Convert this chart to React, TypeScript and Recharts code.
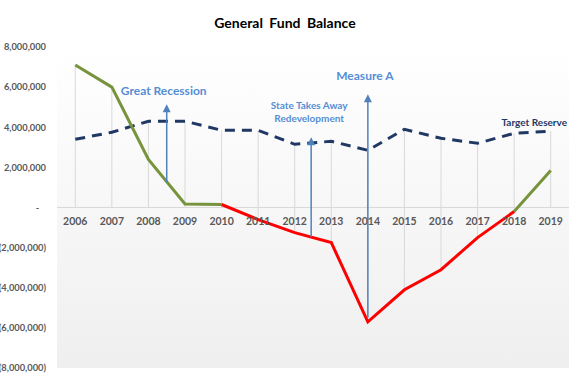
import React from 'react';
import {
  ComposedChart,
  Line,
  XAxis,
  YAxis,
  ReferenceLine,
  ReferenceArea,
  ReferenceDot,
} from 'recharts';

const years = [2006, 2007, 2008, 2009, 2010, 2011, 2012, 2013, 2014, 2015, 2016, 2017, 2018, 2019];
// balance above water (green) and the deficit stretch (red); they share 2010 and 2018
const fundGreen = [7100000, 6000000, 2400000, 180000, 150000, null, null, null, null, null, null, null, -200000, 1850000];
const fundRed = [null, null, null, null, 150000, -600000, -1250000, -1750000, -5700000, -4100000, -3100000, -1500000, -200000, null];
const targetReserve = [3400000, 3750000, 4300000, 4300000, 3850000, 3850000, 3150000, 3300000, 2850000, 3900000, 3450000, 3200000, 3700000, 3800000];
const yTicks = [-8000000, -6000000, -4000000, -2000000, 0, 2000000, 4000000, 6000000, 8000000];

// arrow annotations: x in years, from/to in dollars
const notes = [
  { lines: ['Great Recession'], x: 2008.5, from: 1250000, to: 5150000, size: 12, dx: -3, gap: 9 },
  { lines: ['State Takes Away', 'Redevelopment'], x: 2012.45, from: -1470000, to: 3500000, size: 10, dx: -2, gap: 15 },
  { lines: ['Measure A'], x: 2014, from: -5500000, to: 5650000, size: 12, dx: -3, gap: 14 },
];

const data = years.map((year, i) => {
  const vals = [fundGreen[i], fundRed[i], targetReserve[i]].filter((v) => v !== null) as number[];
  return {
    year,
    green: fundGreen[i],
    red: fundRed[i],
    target: targetReserve[i],
    lo: Math.min(0, ...vals),
    hi: Math.max(0, ...vals),
  };
});

const FONT = 'Lato, "Liberation Sans", sans-serif';
const ARROW = '#4F81BD';
const NOTE = '#558ED5';

const fmt = (v: number) => {
  if (v === 0) return '-\u00A0\u00A0\u00A0';
  const s = Math.abs(v).toLocaleString('en-US');
  return v < 0 ? `(${s})` : s;
};

function makeArrow(note: typeof notes[number]) {
  return (p: any) => {
    const { x1, y1, y2 } = p;
    const bottom = Math.max(y1, y2);
    const top = Math.min(y1, y2);
    const x = x1;
    const n = note.lines.length;
    const lh = note.size + 3;
    return (
      <g>
        <line x1={x} y1={bottom} x2={x} y2={top + 7} stroke={ARROW} strokeWidth={1.5} />
        <path d={`M${x - 4},${top + 8} L${x},${top} L${x + 4},${top + 8} Z`} fill={ARROW} />
        {note.lines.map((t, i) => (
          <text
            key={t}
            x={x + note.dx}
            y={top - note.gap - (n - 1 - i) * lh}
            textAnchor="middle"
            fontSize={note.size}
            fontWeight={700}
            fill={NOTE}
            fontFamily={FONT}
          >
            {t}
          </text>
        ))}
      </g>
    );
  };
}

export default function App() {
  return (
    <div style={{ position: 'absolute', left: 0, top: 0, width: 570, height: 384, background: '#fff', fontFamily: FONT }}>
      <div
        style={{
          position: 'absolute',
          top: 14,
          left: 0,
          width: 570,
          textAlign: 'center',
          fontSize: 14,
          fontWeight: 700,
          color: '#000',
          wordSpacing: 3,
        }}
      >
        General Fund Balance
      </div>
      <ComposedChart width={570} height={384} data={data} margin={{ top: 47, right: 1, bottom: 16, left: 0 }}>
        <defs>
          <linearGradient id="plotBg" x1="0" y1="0" x2="0" y2="1">
            <stop offset="0%" stopColor="#ffffff" />
            <stop offset="100%" stopColor="#efefef" />
          </linearGradient>
        </defs>
        <XAxis dataKey="year" type="number" domain={[2005.5, 2019.5]} hide />
        <YAxis
          type="number"
          domain={[-8000000, 8000000]}
          ticks={yTicks}
          tickFormatter={fmt}
          width={57}
          axisLine={false}
          tickLine={false}
          tickSize={9}
          tick={{ fontSize: 9.3, fill: '#595959', fontWeight: 700, fontFamily: FONT }}
        />
        <ReferenceArea x1={2005.5} x2={2019.5} y1={-8000000} y2={8000000} fill="url(#plotBg)" fillOpacity={1} stroke="none" />
        {data.map((d) => (
          <ReferenceLine
            key={`drop${d.year}`}
            segment={[{ x: d.year, y: d.lo }, { x: d.year, y: d.hi }]}
            stroke="#d9d9d9"
            strokeWidth={1}
          />
        ))}
        <ReferenceLine y={0} stroke="#d9d9d9" strokeWidth={1} />
        {years.map((y) => (
          <ReferenceDot
            key={`lbl${y}`}
            x={y}
            y={0}
            r={0}
            stroke="none"
            fill="none"
            label={{ value: String(y), position: 'bottom', offset: 10, fontSize: 10.5, fontWeight: 700, fill: '#595959', fontFamily: FONT }}
          />
        ))}
        <Line
          dataKey="target"
          stroke="#1F3864"
          strokeWidth={3}
          strokeDasharray="10 7"
          dot={false}
          isAnimationActive={false}
        />
        <Line dataKey="green" stroke="#77933C" strokeWidth={3} dot={false} connectNulls={false} isAnimationActive={false} />
        <Line dataKey="red" stroke="#FF0000" strokeWidth={3} dot={false} connectNulls={false} isAnimationActive={false} />
        <ReferenceDot
          x={2018.55}
          y={4250000}
          r={0}
          stroke="none"
          fill="none"
          label={{ value: 'Target Reserve', position: 'center', fontSize: 10, fontWeight: 700, fill: '#1F3864', fontFamily: FONT }}
        />
        {notes.map((n) => (
          <ReferenceLine
            key={n.lines[0]}
            segment={[{ x: n.x, y: n.from }, { x: n.x, y: n.to }]}
            shape={makeArrow(n)}
          />
        ))}
      </ComposedChart>
    </div>
  );
}
